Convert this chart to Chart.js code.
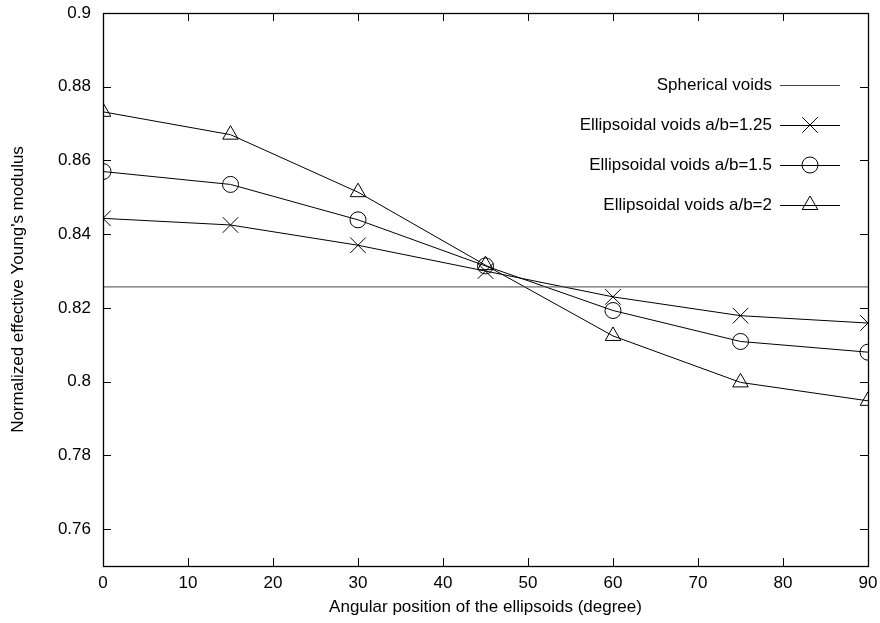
<!DOCTYPE html>
<html>
<head>
<meta charset="utf-8">
<script src="https://cdn.jsdelivr.net/npm/chart.js@4.4.0/dist/chart.umd.min.js"></script>
<style>
  html, body { margin: 0; padding: 0; background: #fff; }
  canvas { display: block; }
</style>
</head>
<body>
<canvas id="chart" width="880" height="623"></canvas>
<script>
// angles (degree)
const angles = [0, 15, 30, 45, 60, 75, 90];

// normalized effective Young's modulus
const spherical = [0.8257, 0.8257];
const sphericalX = [0, 90];
const ratio125 = [0.8443, 0.8425, 0.8370, 0.8300, 0.8230, 0.8179, 0.8159];
const ratio15 = [0.8570, 0.8535, 0.8439, 0.8314, 0.8193, 0.8109, 0.8080];
const ratio2 = [0.8732, 0.8670, 0.8514, 0.8316, 0.8124, 0.7998, 0.7948];

const xTicks = [0, 10, 20, 30, 40, 50, 60, 70, 80, 90];
const yTicks = [0.76, 0.78, 0.8, 0.82, 0.84, 0.86, 0.88, 0.9];

const FONT = 'Liberation Sans, Arial, Helvetica, sans-serif';

function toPoints(xs, ys) {
    return xs.map((x, i) => ({ x: x, y: ys[i] }));
}

// gnuplot style frame with inward ticks on all four sides
const framePlugin = {
    id: 'frame',
    afterDatasetsDraw(chart) {
        const ctx = chart.ctx;
        const a = chart.chartArea;
        const xs = chart.scales.x;
        const ys = chart.scales.y;
        const len = 8;
        ctx.save();
        ctx.strokeStyle = '#000';
        ctx.lineWidth = 1;
        ctx.beginPath();
        xTicks.forEach(v => {
            const px = Math.round(xs.getPixelForValue(v)) + 0.5;
            ctx.moveTo(px, a.bottom); ctx.lineTo(px, a.bottom - len);
            ctx.moveTo(px, a.top); ctx.lineTo(px, a.top + len);
        });
        yTicks.forEach(v => {
            const py = Math.round(ys.getPixelForValue(v)) + 0.5;
            ctx.moveTo(a.left, py); ctx.lineTo(a.left + len, py);
            ctx.moveTo(a.right, py); ctx.lineTo(a.right - len, py);
        });
        ctx.stroke();
        ctx.lineWidth = 1.3;
        ctx.strokeRect(Math.round(a.left) + 0.5, Math.round(a.top) + 0.5,
            Math.round(a.right - a.left), Math.round(a.bottom - a.top));
        ctx.restore();
    }
};

// legend drawn gnuplot-like: text right aligned, sample to the right
const keyPlugin = {
    id: 'key',
    afterDraw(chart) {
        const ctx = chart.ctx;
        const textRight = 772;
        const lineStart = 780;
        const lineEnd = 840;
        const top = 85;
        const gap = 40;
        ctx.save();
        ctx.font = '17px ' + FONT;
        ctx.textAlign = 'right';
        ctx.textBaseline = 'middle';
        chart.data.datasets.forEach((ds, i) => {
            const y = top + i * gap;
            ctx.fillStyle = '#000';
            ctx.fillText(ds.label, textRight, y);
            ctx.strokeStyle = ds.borderColor;
            ctx.lineWidth = 1;
            ctx.beginPath();
            ctx.moveTo(lineStart, Math.round(y) + 0.5);
            ctx.lineTo(lineEnd, Math.round(y) + 0.5);
            ctx.stroke();
            if (ds.pointRadius > 0) {
                ctx.strokeStyle = '#000';
                ctx.fillStyle = 'rgba(0,0,0,0)';
                Chart.helpers.drawPoint(ctx, {
                    pointStyle: ds.pointStyle,
                    radius: ds.pointRadius,
                    borderWidth: 1,
                    rotation: 0
                }, (lineStart + lineEnd) / 2, y);
            }
        });
        ctx.restore();
    }
};

function series(label, xs, ys, style, radius, color) {
    return {
        label: label,
        data: toPoints(xs, ys),
        showLine: true,
        borderColor: color,
        borderWidth: 1,
        backgroundColor: 'rgba(0,0,0,0)',
        pointStyle: style,
        pointRadius: radius,
        pointHoverRadius: radius,
        pointBorderWidth: 1,
        pointBorderColor: '#000',
        pointBackgroundColor: 'rgba(0,0,0,0)',
        tension: 0
    };
}

document.addEventListener('DOMContentLoaded', function() {
    const ctx = document.getElementById('chart').getContext('2d');
    new Chart(ctx, {
        type: 'scatter',
        data: {
            datasets: [
                series('Spherical voids', sphericalX, spherical, false, 0, '#444'),
                series('Ellipsoidal voids a/b=1.25', angles, ratio125, 'crossRot', 11, '#000'),
                series('Ellipsoidal voids a/b=1.5', angles, ratio15, 'circle', 8, '#000'),
                series('Ellipsoidal voids a/b=2', angles, ratio2, 'triangle', 9, '#000')
            ]
        },
        options: {
            responsive: false,
            animation: false,
            events: [],
            layout: { padding: { left: 0, top: 13, right: 12, bottom: 0 } },
            plugins: {
                legend: { display: false },
                tooltip: { enabled: false }
            },
            scales: {
                x: {
                    type: 'linear',
                    min: 0,
                    max: 90,
                    afterFit: s => {
                        s.height = 57;
                        s.paddingLeft = 0;
                        s.paddingRight = 0;
                    },
                    afterBuildTicks: s => { s.ticks = xTicks.map(v => ({ value: v })); },
                    grid: { display: false, drawTicks: false },
                    border: { display: false },
                    ticks: {
                        padding: 7,
                        maxRotation: 0,
                        color: '#000',
                        font: { family: FONT, size: 17 }
                    },
                    title: {
                        display: true,
                        text: 'Angular position of the ellipsoids (degree)',
                        color: '#000',
                        font: { family: FONT, size: 17 },
                        padding: { top: 0, bottom: 5 }
                    }
                },
                y: {
                    type: 'linear',
                    min: 0.75,
                    max: 0.9,
                    afterFit: s => {
                        s.width = 103;
                        s.paddingTop = 0;
                        s.paddingBottom = 0;
                    },
                    afterBuildTicks: s => { s.ticks = yTicks.map(v => ({ value: v })); },
                    grid: { display: false, drawTicks: false },
                    border: { display: false },
                    ticks: {
                        padding: 12,
                        color: '#000',
                        font: { family: FONT, size: 17 },
                        callback: v => String(Math.round(v * 100) / 100)
                    },
                    title: {
                        display: true,
                        text: "Normalized effective Young's modulus",
                        color: '#000',
                        font: { family: FONT, size: 17 },
                        padding: { top: 8, bottom: 0 }
                    }
                }
            }
        },
        plugins: [framePlugin, keyPlugin]
    });
});
</script>
</body>
</html>
